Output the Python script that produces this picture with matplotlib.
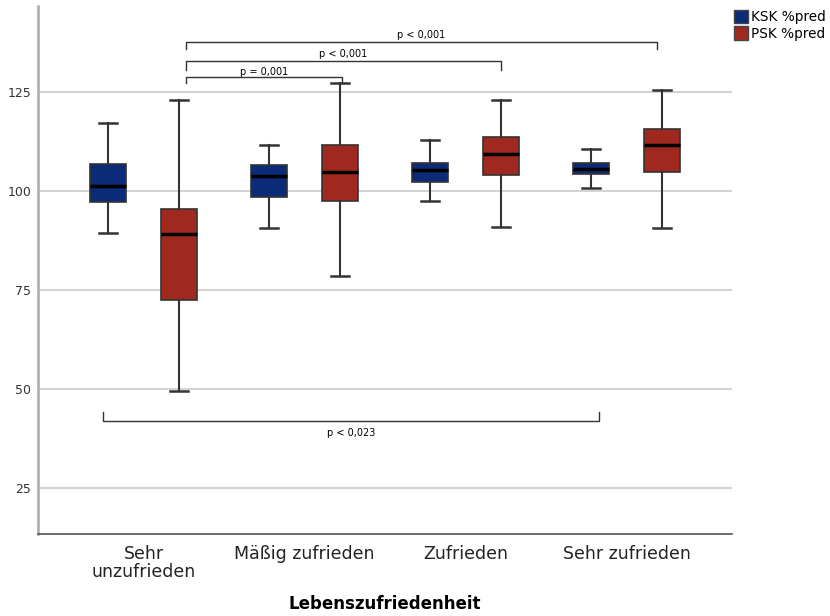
import matplotlib
matplotlib.use("Agg")
import matplotlib.pyplot as plt
from matplotlib.patches import Patch

categories = ["Sehr\nunzufrieden", "Mäßig zufrieden", "Zufrieden", "Sehr zufrieden"]
series = ["KSK %pred", "PSK %pred"]
colors = ["#0b2a78", "#a0291f"]

# box statistics: whislo, q1, median, q3, whishi
ksk_stats = [
    [89.4, 97.2, 101.4, 107.0, 117.2],
    [90.7, 98.7, 103.9, 106.6, 111.7],
    [97.5, 102.4, 105.3, 107.1, 113.0],
    [100.8, 104.3, 105.6, 107.1, 110.6],
]
psk_stats = [
    [49.6, 72.5, 89.3, 95.6, 123.1],
    [78.6, 97.6, 104.8, 111.7, 127.3],
    [91.0, 104.1, 109.4, 113.7, 123.1],
    [90.7, 104.9, 111.6, 115.7, 125.6],
]

yticks = [25, 50, 75, 100, 125]

# significance brackets: (x_left, x_right, y, tick length, label, label y)
brackets = [
    (0.264, 1.233, 128.9, -1.6, "p = 0,001", 130.2),
    (0.264, 2.219, 132.9, -2.3, "p < 0,001", 134.8),
    (0.264, 3.190, 137.6, -1.7, "p < 0,001", 139.6),
    (-0.253, 2.829, 42.1, 2.1, "p < 0,023", 38.9),
]

offset = 0.22
width = 0.224

fig = plt.figure(figsize=(8.3, 6.16), dpi=100)
ax = fig.add_axes([0.0458, 0.1331, 0.8362, 0.8571])


def to_bxp(stats):
    return [dict(whislo=s[0], q1=s[1], med=s[2], q3=s[3], whishi=s[4], fliers=[])
            for s in stats]


for k, (stats, col) in enumerate(zip([ksk_stats, psk_stats], colors)):
    pos = [i + (offset if k else -offset) for i in range(len(categories))]
    ax.bxp(to_bxp(stats), positions=pos, widths=width, patch_artist=True,
           showfliers=False,
           boxprops=dict(facecolor=col, edgecolor="#333333", linewidth=1.2),
           medianprops=dict(color="black", linewidth=2.5),
           whiskerprops=dict(color="#333333", linewidth=1.5),
           capprops=dict(color="#333333", linewidth=1.8),
           capwidths=width * 0.5, zorder=3)

for x0, x1, y, t, label, ty in brackets:
    ax.plot([x0, x0, x1, x1], [y + t, y, y, y + t], color="#333333",
            linewidth=1.0, zorder=4)
    ax.text((x0 + x1) / 2, ty, label, ha="center", va="center", fontsize=7)

ax.set_xlim(-0.655, 3.655)
ax.set_ylim(13.5, 146.8)
ax.set_yticks(yticks)
ax.set_xticks(range(len(categories)))
ax.set_xticklabels(categories, fontsize=12.5, color="#222222", linespacing=1.0)
ax.tick_params(axis="y", labelsize=9, length=0, pad=5, colors="#333333")
ax.tick_params(axis="x", length=0, pad=8)
ax.grid(axis="y", color="#d4d4d4", linewidth=1.5, zorder=0)
ax.set_axisbelow(True)
for s in ["top", "right"]:
    ax.spines[s].set_visible(False)
ax.spines["left"].set_color("#aaaaaa")
ax.spines["left"].set_linewidth(1.8)
ax.spines["bottom"].set_color("#555555")
ax.spines["bottom"].set_linewidth(1.2)

ax.set_xlabel("Lebenszufriedenheit", fontsize=12, fontweight="bold", labelpad=10)

handles = [Patch(facecolor=c, edgecolor="#444444", label=l) for l, c in zip(series, colors)]
fig.legend(handles=handles, loc="upper left", bbox_to_anchor=(0.873, 1.0),
           frameon=False, fontsize=9.8, handlelength=1.0, handleheight=1.2,
           handletextpad=0.25, labelspacing=0.15, borderaxespad=0.3)

fig.savefig("out.png", dpi=100)
